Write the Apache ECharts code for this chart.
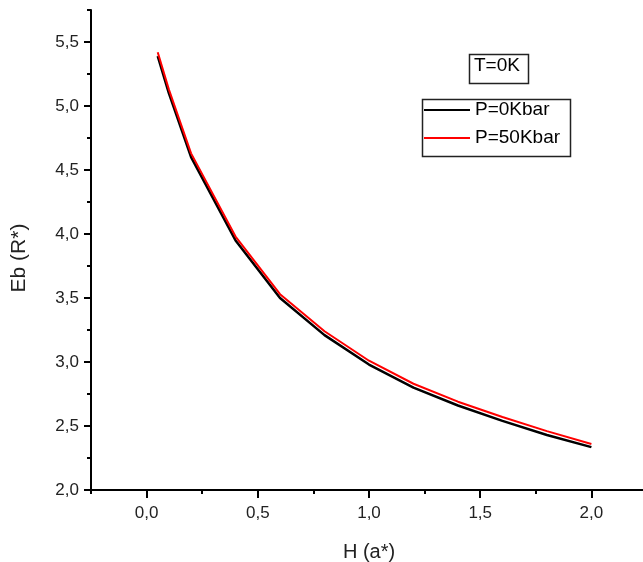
<!DOCTYPE html>
<html>
<head>
<meta charset="utf-8">
<script src="https://cdn.jsdelivr.net/npm/echarts@6/dist/echarts.min.js"></script>
<style>
html,body{margin:0;padding:0;background:#fff;}
#chart{width:643px;height:562px;}
</style>
</head>
<body>
<div id="chart"></div>
<script>
var hValues = [0.05, 0.1, 0.2, 0.4, 0.6, 0.8, 1.0, 1.2, 1.4, 1.6, 1.8, 2.0];
var ebP0 = [5.39, 5.10, 4.60, 3.95, 3.50, 3.21, 2.98, 2.80, 2.66, 2.54, 2.43, 2.335];
var ebP50 = [5.42, 5.13, 4.63, 3.98, 3.53, 3.24, 3.01, 2.83, 2.69, 2.57, 2.46, 2.36];
var seriesNames = ['P=0Kbar', 'P=50Kbar'];
var xMajorTicks = [0, 0.5, 1.0, 1.5, 2.0];
var xMinorTicks = [-0.25, 0.25, 0.75, 1.25, 1.75, 2.25];
var yMajorTicks = [2.0, 2.5, 3.0, 3.5, 4.0, 4.5, 5.0, 5.5];
var yMinorTicks = [2.25, 2.75, 3.25, 3.75, 4.25, 4.75, 5.25, 5.75];
var annotation = 'T=0K';
var xTitle = 'H (a*)';
var yTitle = 'Eb (R*)';

function pairs(xs, ys) { return xs.map(function (x, i) { return [x, ys[i]]; }); }
function comma(v) { return v.toFixed(1).replace('.', ','); }

var FONT = '"Liberation Sans", Arial, sans-serif';
var chart = echarts.init(document.getElementById('chart'));
var axisLine = { show: true, onZero: false, lineStyle: { color: '#000', width: 2 } };

chart.setOption({
  animation: false,
  backgroundColor: '#fff',
  grid: { left: 91, right: -4, top: 10, bottom: 72, containLabel: false, outerBoundsMode: 'none' },
  xAxis: [{
    type: 'value', min: -0.25, max: 2.25, position: 'bottom',
    name: xTitle, nameLocation: 'middle', nameGap: 52,
    nameTextStyle: { fontFamily: FONT, fontSize: 20, color: '#222' },
    axisLine: axisLine,
    axisTick: { show: true, customValues: xMajorTicks, length: 8, lineStyle: { color: '#000', width: 2 } },
    axisLabel: { customValues: xMajorTicks, formatter: comma, margin: 15, fontFamily: FONT, fontSize: 17, color: '#222' },
    splitLine: { show: false }
  }, {
    type: 'value', min: -0.25, max: 2.25, position: 'bottom', offset: 0,
    axisLine: { show: false, onZero: false },
    axisTick: { show: true, customValues: xMinorTicks, length: 4, lineStyle: { color: '#000', width: 2 } },
    axisLabel: { show: false },
    splitLine: { show: false }
  }],
  yAxis: [{
    type: 'value', min: 2.0, max: 5.75, position: 'left',
    name: yTitle, nameLocation: 'middle', nameGap: 61, nameRotate: 90,
    nameTextStyle: { fontFamily: FONT, fontSize: 21, color: '#222', padding: [0, 16, 0, 0] },
    axisLine: axisLine,
    axisTick: { show: true, customValues: yMajorTicks, length: 7, lineStyle: { color: '#000', width: 2 } },
    axisLabel: { customValues: yMajorTicks, formatter: comma, margin: 12, fontFamily: FONT, fontSize: 17, color: '#222' },
    splitLine: { show: false }
  }, {
    type: 'value', min: 2.0, max: 5.75, position: 'left', offset: 0,
    axisLine: { show: false, onZero: false },
    axisTick: { show: true, customValues: yMinorTicks, length: 4, lineStyle: { color: '#000', width: 2 } },
    axisLabel: { show: false },
    splitLine: { show: false }
  }],
  legend: {
    orient: 'vertical', left: 424, top: 100, padding: 0, itemGap: 8,
    itemWidth: 46, itemHeight: 2, icon: 'rect',
    data: seriesNames,
    textStyle: { fontFamily: FONT, fontSize: 19, color: '#000', lineHeight: 20 }
  },
  graphic: [
    { type: 'rect', left: 420, top: 97, shape: { width: 148, height: 57 }, style: { fill: 'none', stroke: '#222', lineWidth: 1.5 } },
    { type: 'rect', left: 467, top: 52, shape: { width: 59, height: 29 }, style: { fill: 'none', stroke: '#222', lineWidth: 1.5 } },
    { type: 'text', left: 474, top: 56, style: { text: annotation, font: '19px ' + FONT, fill: '#000' } }
  ],
  series: [{
    name: seriesNames[0], type: 'line', data: pairs(hValues, ebP0),
    symbol: 'none', smooth: false, lineStyle: { color: '#000', width: 2.5 }, itemStyle: { color: '#000' }
  }, {
    name: seriesNames[1], type: 'line', data: pairs(hValues, ebP50),
    symbol: 'none', smooth: false, lineStyle: { color: '#ff0000', width: 2 }, itemStyle: { color: '#ff0000' }
  }]
});
</script>
</body>
</html>
